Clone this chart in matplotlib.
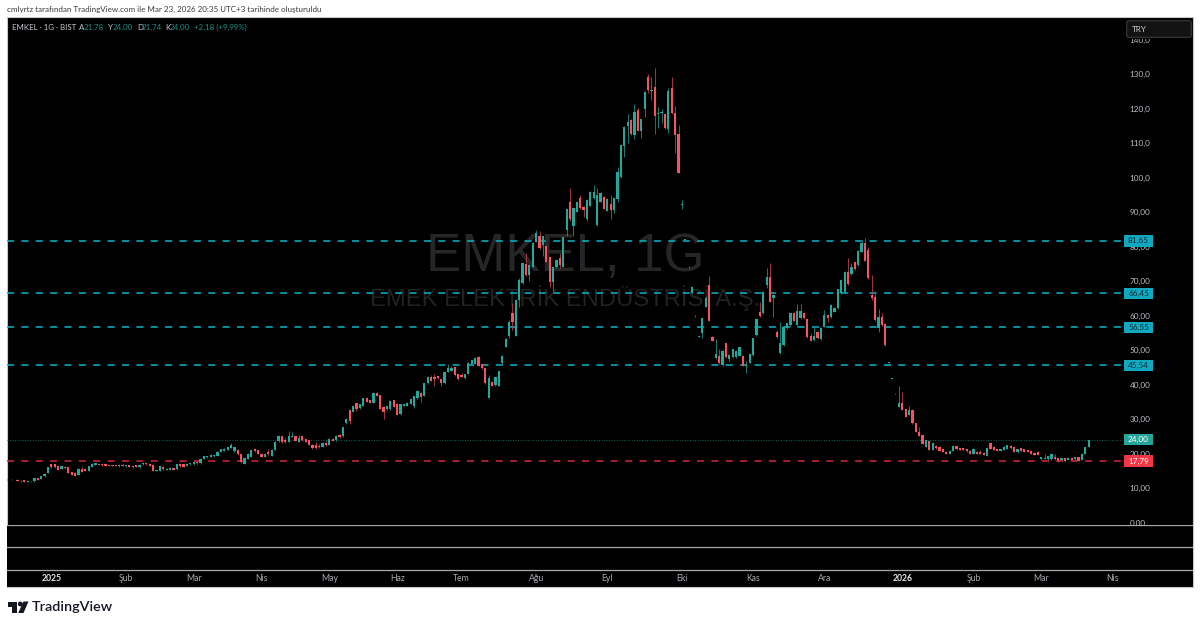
import matplotlib
matplotlib.use("Agg")
import matplotlib.pyplot as plt
from matplotlib.patches import Rectangle, Polygon, Circle, FancyBboxPatch
import numpy as np

W, H = 1200, 627
FONT = "Lato"

opens = [
12.3,12.4,12.3,12.4,12.1,12.2,11.7,11.7,11.9,12.9,
12.6,13.4,14.4,16.9,17.0,16.4,15.6,16.2,16.0,14.6,
14.4,13.9,15.5,15.5,15.0,16.2,16.7,16.9,16.9,16.9,
16.7,16.7,16.7,16.3,16.8,16.3,16.6,16.4,16.6,16.0,
16.9,17.2,16.9,16.8,14.9,15.0,16.2,15.2,15.3,15.8,
15.4,16.9,16.9,16.5,16.9,16.9,17.6,17.2,18.4,18.9,
19.0,19.2,19.4,20.5,20.7,21.0,21.7,20.6,21.0,20.0,
17.0,18.4,19.0,21.3,21.0,20.0,19.1,20.4,19.4,21.0,
23.5,25.0,24.0,23.4,24.8,25.0,23.4,25.0,24.1,23.8,
22.6,22.4,22.2,22.0,23.0,22.5,24.3,23.8,25.3,25.0,
28.7,32.6,32.1,34.5,33.1,33.8,36.2,35.5,34.7,37.6,
36.9,33.6,32.8,32.8,35.5,34.4,31.4,33.8,33.9,34.4,
33.8,36.0,37.4,36.8,40.3,42.3,42.1,42.5,41.6,40.3,
43.7,44.0,45.0,42.9,42.7,41.8,43.0,46.0,46.0,48.0,
45.8,44.7,36.2,40.8,39.8,39.7,46.1,51.0,54.0,60.6,
54.1,64.5,69.4,75.0,71.8,74.2,81.4,83.0,80.5,80.2,
76.9,69.8,74.0,76.6,74.2,84.8,93.0,85.8,90.1,94.0,
91.4,87.9,91.8,94.0,86.3,93.0,94.3,90.4,92.3,90.6,
93.8,100.2,109.1,115.0,116.7,112.3,119.6,113.6,119.8,129.2,
125.0,126.3,118.4,118.6,118.4,114.2,125.8,118.6,112.6,91.9,
82.0,74.0,66.4,59.8,53.8,54.8,62.6,68.8,53.7,47.6,
48.3,45.7,51.9,47.3,47.9,47.9,48.3,48.3,45.5,46.3,
48.5,54.4,61.0,60.6,68.8,71.3,65.0,55.3,49.0,51.4,
56.3,57.2,60.8,57.2,59.2,60.8,58.9,54.0,52.9,55.3,
53.1,56.8,60.1,59.5,61.1,62.1,66.4,66.9,72.7,72.0,
75.4,74.6,78.5,81.1,79.0,66.0,65.5,56.3,59.5,57.5,
46.2,41.6,37.4,33.6,34.5,32.8,31.2,32.6,28.7,26.3,
25.4,22.0,23.6,21.0,22.2,22.0,21.2,20.5,20.0,20.7,
22.2,21.5,21.5,21.3,20.8,19.9,20.5,20.5,20.2,19.4,
22.9,22.0,21.3,20.7,21.0,21.3,22.3,21.8,20.3,21.5,
21.3,21.0,20.7,20.2,20.4,18.3,18.5,18.3,18.3,19.1,
18.6,18.1,18.7,18.1,18.8,18.3,18.9,18.1,19.9,21.78,
]
closes = [
12.4,12.3,12.3,12.1,11.9,11.8,11.9,11.8,12.8,12.4,
13.4,14.2,16.1,16.0,16.0,15.3,16.5,15.7,14.4,13.8,
13.6,15.5,14.6,15.0,16.4,16.9,17.2,16.7,16.6,16.5,
16.5,16.4,16.4,16.8,16.5,16.7,16.2,16.0,16.2,16.7,
17.3,16.9,16.4,15.0,15.2,16.3,15.4,15.6,15.9,15.2,
16.9,16.3,16.2,17.0,17.2,17.6,17.2,18.5,19.3,19.3,
19.7,19.6,20.5,21.2,21.4,21.9,22.5,21.9,19.8,17.5,
18.7,19.9,20.9,20.7,19.9,19.1,20.0,19.9,21.1,23.3,
25.2,23.2,23.2,25.0,25.1,23.7,24.6,23.8,23.4,22.6,
21.5,21.5,22.0,23.0,22.5,24.2,23.7,25.2,24.8,27.6,
30.0,29.4,33.8,32.9,34.3,36.0,34.9,34.7,37.6,36.7,
32.9,32.1,33.8,35.2,33.6,31.2,34.3,34.3,34.7,35.7,
36.7,38.2,36.5,40.3,42.3,41.0,41.5,41.8,40.5,43.7,
44.7,44.7,42.7,41.5,42.3,43.0,46.3,47.1,47.6,45.5,
44.7,40.3,41.8,39.6,42.1,43.9,48.4,53.3,58.0,58.2,
64.5,70.3,75.1,71.8,74.7,80.9,84.0,79.5,82.9,75.6,
69.8,74.2,76.1,74.7,82.7,90.8,87.9,91.1,93.0,91.1,
90.6,93.5,95.9,95.9,95.0,95.6,91.0,93.7,90.6,94.0,
101.7,109.4,114.7,116.0,112.6,119.1,113.6,116.9,124.9,125.4,
125.3,117.9,118.6,118.9,114.4,125.2,118.6,112.3,101.4,92.3,
82.2,74.2,68.4,60.0,54.0,59.2,65.0,58.5,52.7,48.8,
46.1,49.8,47.9,48.5,50.2,49.8,50.8,45.4,45.6,48.7,
53.4,58.9,60.0,66.9,71.3,64.0,66.0,53.7,52.0,56.8,
57.7,60.6,58.5,61.3,61.3,59.2,53.7,52.7,54.0,53.4,
56.3,60.1,59.2,63.0,62.1,67.6,70.3,72.7,69.0,74.0,
73.4,78.8,81.1,75.9,70.8,65.0,58.7,59.5,57.3,51.4,
46.4,41.8,37.5,34.5,32.6,30.7,32.6,28.7,26.3,25.1,
22.8,23.9,21.0,23.1,21.5,20.8,20.4,20.0,20.8,22.2,
21.2,21.1,21.0,20.6,19.9,21.2,20.0,19.9,19.6,21.7,
21.3,21.0,20.7,21.3,22.0,22.5,21.5,20.5,21.2,20.7,
20.5,20.5,19.9,19.7,19.7,18.9,18.8,19.3,19.8,18.3,
17.7,18.7,17.9,18.8,18.1,18.9,17.9,20.0,21.8,24.0,
]
highs = [
12.5,12.5,12.4,12.5,12.3,12.3,12.0,11.9,13.0,13.0,
13.5,14.3,16.2,17.1,17.1,16.6,16.8,16.4,16.1,14.7,
14.5,15.8,16.2,15.9,16.5,17.2,17.3,17.0,17.0,17.0,
16.8,16.8,16.8,16.9,16.9,16.8,16.7,16.5,16.8,16.9,
17.4,17.4,17.0,16.9,15.3,16.4,16.3,15.7,16.0,15.9,
17.0,17.2,17.1,17.1,17.3,17.7,17.8,18.6,19.4,19.4,
19.8,19.7,20.6,21.3,21.5,22.0,22.9,22.0,21.2,20.2,
18.9,20.1,21.1,21.5,21.1,20.2,20.2,21.4,21.3,23.5,
25.4,25.2,24.5,26.5,26.2,25.2,25.4,25.3,24.2,23.9,
22.7,23.2,22.8,23.2,23.5,24.4,24.5,25.4,25.7,27.8,
30.2,33.0,34.0,34.6,34.4,36.2,36.4,35.6,37.8,37.8,
37.0,33.7,33.9,35.4,35.6,34.5,34.4,34.4,34.8,35.8,
36.8,38.3,37.7,40.4,42.4,42.8,43.0,42.6,41.7,43.8,
45.8,45.5,45.2,43.0,43.3,43.1,46.4,47.2,48.1,48.2,
45.9,44.8,42.8,41.0,42.2,44.0,48.5,53.4,58.7,63.5,
64.7,71.0,75.5,78.0,75.0,81.2,84.8,84.5,83.1,80.4,
77.1,74.4,76.3,78.0,82.9,91.0,96.9,91.3,93.2,95.0,
91.6,93.7,96.1,97.9,96.9,95.9,94.5,94.0,95.0,94.2,
103.1,109.6,114.9,118.4,116.9,121.3,120.2,117.1,125.1,130.0,
129.0,131.6,120.5,120.0,118.6,125.8,129.0,120.7,115.2,93.5,
82.3,74.3,68.5,60.1,54.1,59.4,65.6,71.5,54.1,53.1,
50.2,50.0,52.1,48.7,50.4,50.0,51.0,48.5,46.9,48.9,
53.6,59.0,64.0,67.1,73.7,75.1,66.2,55.8,58.0,57.0,
57.9,60.8,61.0,63.3,63.3,61.0,59.0,54.8,56.8,55.5,
56.5,61.6,60.4,63.2,62.6,67.8,70.5,72.9,76.8,75.1,
75.6,79.0,81.9,82.4,79.8,71.7,67.2,61.8,60.6,57.7,
46.5,41.9,37.6,39.6,37.7,33.0,33.8,32.8,28.9,27.8,
25.6,24.0,23.7,23.2,22.4,22.1,21.3,20.6,21.0,22.3,
22.3,21.6,21.6,21.4,20.9,21.6,20.6,20.9,20.3,21.8,
23.1,22.1,21.4,21.4,22.1,22.6,22.4,21.9,21.3,21.6,
21.4,21.1,20.8,20.3,20.7,19.0,19.9,19.4,20.0,19.8,
18.7,18.8,18.8,18.9,18.9,19.0,19.0,20.1,21.9,24.0,
]
lows = [
12.2,12.2,12.2,12.0,11.8,11.7,11.6,11.6,11.8,12.3,
12.5,13.3,14.3,15.9,15.9,15.2,15.5,15.6,14.3,13.7,
13.5,13.8,14.5,14.9,14.9,16.1,16.6,16.6,16.5,16.4,
16.4,16.3,16.3,16.2,16.4,16.2,16.1,15.9,16.1,15.9,
16.8,16.8,16.3,14.9,14.8,14.9,15.3,15.1,15.2,15.1,
15.3,16.2,16.1,16.4,16.8,16.8,17.1,17.1,18.3,18.8,
18.9,19.1,19.3,20.4,20.6,20.9,21.6,20.5,19.7,17.3,
16.9,18.3,18.9,20.5,19.8,19.0,19.0,19.6,19.3,20.9,
23.2,23.1,23.0,23.3,24.7,23.6,23.3,23.7,23.3,22.5,
21.4,21.4,21.7,21.9,22.3,22.4,23.6,23.7,24.6,24.9,
28.6,28.6,32.0,32.2,32.9,33.7,34.8,34.6,34.6,36.6,
32.8,29.9,32.7,32.7,33.5,31.1,31.3,33.7,33.8,34.3,
33.2,35.9,35.0,36.7,40.2,40.9,39.7,41.7,39.7,40.2,
43.6,43.9,42.6,41.4,42.2,41.6,42.9,45.9,45.9,45.4,
44.6,40.2,36.0,39.5,39.7,39.6,46.0,50.9,53.4,55.8,
54.0,62.6,69.0,71.5,70.0,74.0,81.2,79.3,77.3,75.5,
68.4,67.2,73.8,73.7,74.0,83.0,87.5,82.9,90.0,91.0,
88.5,87.5,91.6,93.8,86.0,92.8,90.8,90.2,87.9,89.8,
92.8,100.0,106.0,110.1,112.4,111.3,113.4,111.5,117.4,124.4,
122.5,112.5,114.3,115.7,114.2,112.8,118.4,107.2,101.2,91.0,
81.9,73.9,66.3,59.7,53.7,53.6,62.4,58.4,52.5,47.4,
46.0,45.5,47.8,46.9,47.8,47.8,48.2,45.3,43.4,46.2,
48.4,54.2,59.5,60.4,67.9,63.9,59.5,53.6,48.9,51.2,
56.1,57.0,58.4,57.0,59.0,59.0,53.6,52.5,52.7,53.2,
53.0,56.6,58.0,59.3,60.9,62.0,66.2,66.7,68.9,71.8,
73.2,74.4,78.3,75.7,70.6,64.6,58.5,55.3,57.1,51.3,
46.1,41.5,37.3,33.4,32.5,30.6,31.1,28.6,26.2,25.0,
22.7,21.9,20.9,20.9,21.4,20.7,20.3,19.9,19.9,20.6,
21.1,21.0,20.9,20.5,19.8,19.8,19.9,19.8,19.5,19.3,
21.2,20.9,20.6,20.6,20.9,21.2,21.4,20.4,20.2,20.6,
20.4,20.4,19.8,19.6,19.6,18.0,18.3,18.2,18.2,18.2,
17.6,18.0,17.8,18.0,18.0,18.2,17.8,18.0,19.8,21.74,
]

level_values = [81.65, 66.45, 56.55, 45.54]
support_value = 17.79
last_value = 24.00
price_ticks = list(range(0, 150, 10))
month_labels = ["2025", "Şub", "Mar", "Nis", "May", "Haz", "Tem", "Ağu", "Eyl",
                "Eki", "Kas", "Ara", "2026", "Şub", "Mar", "Nis"]
month_bars = [13, 35, 55, 75, 95, 115, 134, 156, 177, 199, 220, 241, 264, 285, 305, 326]


def pxaxes(fig, x0, y0, x1, y1, **kw):
    return fig.add_axes([x0 / W, 1 - y1 / H, (x1 - x0) / W, (y1 - y0) / H], **kw)


def figtext(fig, x, y, s, **kw):
    kw.setdefault("family", FONT)
    kw.setdefault("va", "center")
    return fig.text(x / W, 1 - y / H, s, **kw)


assert len(opens) == len(closes) == len(highs) == len(lows)

fig = plt.figure(figsize=(W / 100, H / 100), dpi=100, facecolor="white")

bg = pxaxes(fig, 7, 17, 1193, 587, facecolor="black")
bg.set_xticks([]); bg.set_yticks([])
for s in bg.spines.values():
    s.set_color("#c8c8c8"); s.set_linewidth(0.8)

# price pane
BAR_PX = 3.39
X0 = 7.3
ax = pxaxes(fig, 7, 17, 1122, 524.5, facecolor="none")
ax.set_xlim((7 - X0) / BAR_PX, (1122 - X0) / BAR_PX)
ax.set_ylim((522.5 - 524.5) / 3.45, (522.5 - 17) / 3.45)
for s in ax.spines.values():
    s.set_visible(False)
ax.set_xticks([])

TICK_SIZE = 5.9
ax.yaxis.tick_right()
ax.set_yticks(price_ticks)
ax.set_yticklabels([f"{v:.1f}".replace(".", ",") if v >= 100 else f"{v:.2f}".replace(".", ",")
                    for v in price_ticks], family=FONT, fontsize=TICK_SIZE, color="#b9bcc4")
ax.tick_params(axis="y", length=0, pad=5.6)

# watermark
ax.text((565 - 7) / 1115, 1 - (256.5 - 17) / 507.5, "EMKEL, 1G", transform=ax.transAxes,
        family="Liberation Sans", fontsize=38, color="#262626", ha="center", va="center", zorder=0.5)
ax.text((565 - 7) / 1115, 1 - (298 - 17) / 507.5, "EMEK ELEKTRİK ENDÜSTRİSİ A.Ş.", transform=ax.transAxes,
        family="Liberation Sans", fontsize=17.1, color="#222222", ha="center", va="center", zorder=0.5)

# horizontal levels
for v in level_values:
    ax.axhline(v, color="#06b0c6", lw=1.15, ls=(0, (4.4, 4.6)), zorder=1.5)
ax.axhline(support_value, color="#c8283a", lw=1.15, ls=(0, (4.4, 4.6)), zorder=1.5)
ax.axhline(last_value, color="#0d6b62", lw=0.7, ls=(0, (1, 1.6)), zorder=1.5)

# candles
o = np.array(opens); c = np.array(closes); hi = np.array(highs); lo = np.array(lows)
idx = np.arange(len(o))
up = c >= o
TEAL, RED = "#22a99c", "#f7525f"
wick_colors = [("#1f8f85" if u else "#b8404a") for u in up]
ax.vlines(idx, lo, hi, colors=wick_colors, linewidth=0.6, zorder=2)
ax.bar(idx, np.abs(c - o), bottom=np.minimum(o, c), width=0.66,
       color=[TEAL if u else RED for u in up], linewidth=0, zorder=3)


# price tags
def tag(v, bgc, fg):
    ax.add_patch(Rectangle((1 + 2 / 1115, v - 1.65), 29 / 1115, 3.3, transform=ax.get_yaxis_transform(),
                           fc=bgc, ec="none", clip_on=False, zorder=5.5))
    ax.text(1 + 16.5 / 1115, v, f"{v:.2f}".replace(".", ","), transform=ax.get_yaxis_transform(),
            family=FONT, fontsize=TICK_SIZE, color=fg, ha="center", va="center", clip_on=False, zorder=6)


for v in level_values:
    tag(v, "#12a9c0", "#0b2a30")
tag(last_value, "#26a69a", "white")
tag(support_value, "#f23645", "white")

# lower empty panes and time axis
low = pxaxes(fig, 7, 524.5, 1193, 587, facecolor="black")
low.set_xlim((7 - X0) / BAR_PX, (1193 - X0) / BAR_PX)
low.set_ylim(587, 524.5)
low.set_yticks([]); low.set_xticks([])
for s in low.spines.values():
    s.set_visible(False)
low.spines["bottom"].set_visible(True)
low.spines["bottom"].set_color("#c8c8c8")
low.spines["bottom"].set_linewidth(0.8)
for yp in (524.6, 547, 569.7):
    low.axhline(yp, color="#a8a8a8", lw=0.9)
for m, b in zip(month_labels, month_bars):
    bold = m in ("2025", "2026")
    low.text(b, 578.2, m, family=FONT, fontsize=6.2, ha="center", va="center",
             color="#e6e6e6" if bold else "#a8abb3", fontweight="bold" if bold else "normal")

# header texts
figtext(fig, 7, 9, "cmlyrtz tarafından TradingView.com ile Mar 23, 2026 20:35 UTC+3 tarihinde oluşturuldu",
        fontsize=5.75, color="#3a3a3a")
LIGHT, GREEN = "#c8cad0", "#1b8f84"
for x, s, col in [(12, "EMKEL · 1G · BIST", LIGHT), (79, "A", LIGHT), (84, "21,78", GREEN),
                  (108, "Y", LIGHT), (113, "24,00", GREEN), (137, "D", LIGHT), (142, "21,74", GREEN),
                  (165, "K", LIGHT), (170, "24,00", GREEN), (194, "+2,18 (+9,99%)", GREEN)]:
    figtext(fig, x, 27.5, s, fontsize=5.7, color=col, zorder=10)

# currency box
box = pxaxes(fig, 1126, 20, 1192, 38, facecolor="none")
box.axis("off")
box.set_xlim(0, 66); box.set_ylim(18, 0)
box.add_patch(Rectangle((0, 16), 66, 3.2, fc="black", ec="none", clip_on=False))
box.add_patch(FancyBboxPatch((0.7, 0.7), 64.6, 16.6, boxstyle="round,pad=0,rounding_size=2",
                             fc="#131313", ec="#3a3a3a", lw=0.8, clip_on=False))
box.text(6, 9.3, "TRY", family=FONT, fontsize=5.9, color="#c8cad0", va="center", ha="left")

# TradingView logo
logo = pxaxes(fig, 7, 598, 30, 616, facecolor="none")
logo.axis("off")
logo.set_xlim(7, 30); logo.set_ylim(616, 598)
logo.add_patch(Polygon([(8, 601.5), (17.5, 601.5), (17.5, 613), (12.5, 613), (12.5, 606.5), (8, 606.5)],
                       fc="#131722", ec="none"))
logo.add_patch(Circle((20.3, 604), 2.4, fc="#131722", ec="none"))
logo.add_patch(Polygon([(23.4, 601.5), (28.5, 601.5), (23.5, 613), (18.2, 613)], fc="#131722", ec="none"))
figtext(fig, 32, 607, "TradingView", family="Lato", fontsize=10.4, fontweight="semibold", color="#131722")

fig.savefig("out.png", dpi=100, facecolor="white")
